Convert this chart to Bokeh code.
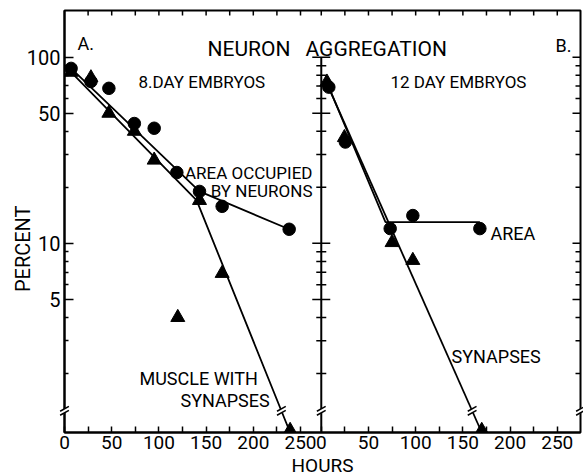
import math
from bokeh.plotting import figure
from bokeh.models import FixedTicker, Range1d, Label, BasicTickFormatter
from bokeh.embed import file_html
from bokeh.resources import INLINE

# ---------------- data ----------------
# Panel A: 8 day embryos
hours_a_area = [7, 28, 47, 74, 95, 119, 143, 167, 238]
pct_a_area = [87, 74, 68, 44, 41.5, 24, 19, 15.8, 11.9]
hours_a_syn = [7, 28, 47, 74, 95, 120, 143, 167, 239]
pct_a_syn = [83, 77.5, 50, 40, 28, 4.0, 17, 6.9, 0]
fit_a_area_h = [7, 143, 238]
fit_a_area_p = [87, 19, 11.9]
fit_a_syn_h = [7, 140, 239]
fit_a_syn_p = [83, 17, 0]

# Panel B: 12 day embryos
hours_b_area = [8, 25.5, 73, 97, 168]
pct_b_area = [69, 35, 12, 14.1, 12]
hours_b_syn = [6, 24.5, 75, 97, 170]
pct_b_syn = [73.5, 37, 10.1, 8.1, 0]
fit_b_area_h = [7, 68, 168]
fit_b_area_p = [71, 13, 13]
fit_b_syn_h = [4.5, 170]
fit_b_syn_p = [75, 0]

x_tick_labels = [0, 50, 100, 150, 200, 250]
x_minor_ticks = [25, 75, 125, 175, 225]
y_major_ticks = [5, 10, 50, 100]
y_minor_ticks = [2, 3, 4, 6, 7, 8, 9, 20, 30, 40, 60, 70, 80, 90]

PANEL_SPAN = 272          # hours shown in panel A; panel B starts here
X_END = 546.6
Y_START, Y_END = 0.964, 178
ZERO_MARK = 0.99          # where points with value 0 sit (on the broken axis)
BREAK_PCT = 1.26
FONT = "Roboto"
NBSP = "\u00a0"


def floor0(vals, zero=Y_START):
    """zero values are drawn on the broken bottom axis"""
    return [v if v > 0 else zero for v in vals]


def shift(vals):
    return [PANEL_SPAN + v for v in vals]


p = figure(frame_width=516, frame_height=422,
           min_border_left=64, min_border_right=3, min_border_top=10, min_border_bottom=40,
           x_range=Range1d(0, X_END), y_range=Range1d(Y_START, Y_END),
           y_axis_type="log", output_backend="svg", toolbar_location=None)
p.outline_line_color = "black"
p.outline_line_width = 2
p.grid.visible = False
p.background_fill_color = "white"
p.border_fill_color = "white"

# bottom axis
xa = p.xaxis[0]
xa.ticker = FixedTicker(ticks=x_tick_labels + shift(x_tick_labels),
                        minor_ticks=x_minor_ticks + shift(x_minor_ticks))
xa.major_label_overrides = {PANEL_SPAN + t: str(t) for t in x_tick_labels}
xa.axis_label = "HOURS"

# left axis
ya = p.yaxis[0]
ya.ticker = FixedTicker(ticks=y_major_ticks, minor_ticks=y_minor_ticks)
ya.formatter = BasicTickFormatter()
ya.axis_label = "PERCENT" + NBSP * 11

for ax in [xa, ya]:
    ax.axis_line_width = 2
    ax.axis_line_color = "black"
    ax.major_tick_line_width = 1.5
    ax.minor_tick_line_width = 1.5
    ax.major_tick_line_color = "black"
    ax.minor_tick_line_color = "black"
    ax.major_tick_out = 0
    ax.minor_tick_out = 0
    ax.major_label_text_font = FONT
    ax.major_label_text_color = "black"
    ax.axis_label_text_font = FONT
    ax.axis_label_text_font_style = "normal"
    ax.axis_label_text_color = "black"

xa.major_tick_in = 6
xa.minor_tick_in = 6
xa.major_label_text_font_size = "19px"
xa.major_label_standoff = 3
xa.axis_label_text_font_size = "19px"
xa.axis_label_standoff = 2

ya.major_tick_in = 9
ya.minor_tick_in = 4
ya.major_label_text_font_size = "20px"
ya.major_label_standoff = 4
ya.axis_label_text_font_size = "20px"
ya.axis_label_standoff = -11

# inward ticks on the right and top borders (half of each dash lies outside the frame)
p.scatter([X_END] * len(y_major_ticks), y_major_ticks, marker="dash", size=16,
          line_width=1.5, line_color="black")
p.scatter([X_END] * len(y_minor_ticks), y_minor_ticks, marker="dash", size=10,
          line_width=1.5, line_color="black")
top_ticks = x_tick_labels[1:] + x_minor_ticks + shift(x_tick_labels) + shift(x_minor_ticks)
p.scatter(top_ticks, [Y_END] * len(top_ticks), marker="dash", angle=math.pi / 2, size=10,
          line_width=1.5, line_color="black")

# middle (shared) axis with crossing ticks
p.line([PANEL_SPAN, PANEL_SPAN], [Y_START, max(y_major_ticks)], line_width=2, line_color="black")
p.scatter([PANEL_SPAN] * len(y_major_ticks), y_major_ticks, marker="dash", size=18,
          line_width=1.5, line_color="black")
p.scatter([PANEL_SPAN] * len(y_minor_ticks), y_minor_ticks, marker="dash", size=10,
          line_width=1.5, line_color="black")

# fitted lines
LW = 1.8
p.line(fit_a_area_h, floor0(fit_a_area_p), line_width=LW, line_color="black")
p.line(fit_a_syn_h, floor0(fit_a_syn_p), line_width=LW, line_color="black")
p.line(shift(fit_b_area_h), floor0(fit_b_area_p), line_width=LW, line_color="black")
p.line(shift(fit_b_syn_h), floor0(fit_b_syn_p), line_width=LW, line_color="black")

# points
p.scatter(hours_a_area, floor0(pct_a_area, ZERO_MARK), marker="circle", size=12.5, color="black")
p.scatter(hours_a_syn, floor0(pct_a_syn, ZERO_MARK), marker="triangle", size=14, color="black")
p.scatter(shift(hours_b_area), floor0(pct_b_area, ZERO_MARK), marker="circle", size=12.5, color="black")
p.scatter(shift(hours_b_syn), floor0(pct_b_syn, ZERO_MARK), marker="triangle", size=14, color="black")


# axis break marks
def break_x(hs, ps):
    h0, h1 = hs[-2], hs[-1]
    l0, l1 = math.log10(floor0(ps)[-2]), math.log10(floor0(ps)[-1])
    t = (math.log10(BREAK_PCT) - l0) / (l1 - l0)
    return h0 + t * (h1 - h0)


bx = [0, PANEL_SPAN, X_END, break_x(fit_a_syn_h, fit_a_syn_p),
      PANEL_SPAN + break_x(fit_b_syn_h, fit_b_syn_p)]
r = p.scatter(bx, [BREAK_PCT] * len(bx), marker="dash", size=10, angle=0.5,
              line_color="white", line_width=4)
r.level = "overlay"
for f in (1.025, 1 / 1.025):
    r = p.scatter(bx, [BREAK_PCT * f] * len(bx), marker="dash", size=10, angle=0.5,
                  line_color="black", line_width=1.5)
    r.level = "overlay"

# texts
texts = [
    ("A.", 13.8, 118.0, 18, "left"),
    ("NEURON", 151.5, 111.0, 21, "left"),
    ("AGGREGATION", 255.3, 111.0, 21, "left"),
    ("B.", PANEL_SPAN + 248.1, 115.6, 18, "left"),
    ("8.DAY EMBRYOS", 78.4, 73.4, 17, "left"),
    ("12 DAY EMBRYOS", PANEL_SPAN + 73.3, 73.4, 17, "left"),
    ("AREA OCCUPIED", 262.7, 24.0, 17, "right"),
    ("BY NEURONS", 262.7, 19.2, 17, "right"),
    ("AREA", PANEL_SPAN + 179.3, 11.3, 18, "left"),
    ("MUSCLE WITH", 79.4, 1.874, 18, "left"),
    ("SYNAPSES", 122.9, 1.427, 18, "left"),
    ("SYNAPSES", PANEL_SPAN + 138.0, 2.46, 18, "left"),
]
for t, x, y, s, al in texts:
    p.add_layout(Label(x=x, y=y, text=t, text_font=FONT, text_font_size=f"{s}px",
                       text_align=al, text_baseline="alphabetic", text_color="black"))

open("out.html", "w").write(file_html(p, INLINE))
